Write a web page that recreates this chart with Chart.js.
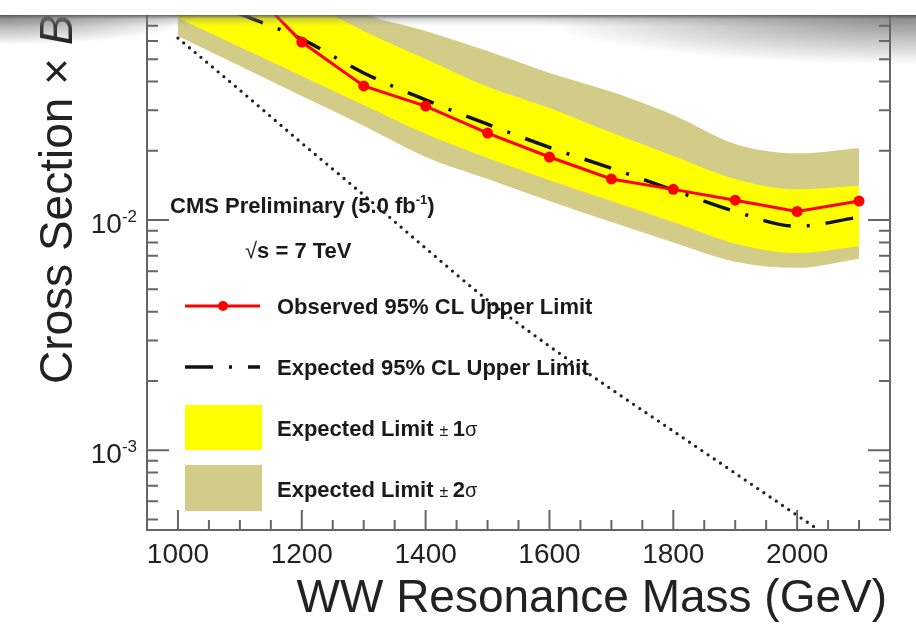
<!DOCTYPE html>
<html>
<head>
<meta charset="utf-8">
<script src="https://cdn.jsdelivr.net/npm/chart.js@4.4.1/dist/chart.umd.min.js"></script>
<style>
  html, body { margin: 0; padding: 0; background: #fff; overflow: hidden; }
  #wrap { position: absolute; left: 0; top: -40px; width: 916px; height: 665px; }
  #wrap canvas { filter: blur(0.4px); }
  #shade {
    position: absolute; left: 0; top: 0; width: 916px; height: 75px; pointer-events: none;
    background:
      linear-gradient(to bottom, #fff 0, #fff 15px, rgba(80,80,80,0.85) 15px, rgba(140,140,140,0.35) 19px, rgba(255,255,255,0) 26px),
      radial-gradient(ellipse 200px 30px at 0px 15px, rgba(105,105,105,0.8), rgba(110,110,110,0) 100%),
      radial-gradient(ellipse 380px 50px at 916px 15px, rgba(105,105,105,0.8), rgba(110,110,110,0) 100%);
  }
</style>
</head>
<body>
<div id="wrap"><canvas id="c" width="916" height="665"></canvas></div>
<div id="shade"></div>
<script>
// WW resonance mass points (GeV)
const masses = [1000, 1100, 1200, 1300, 1400, 1500, 1600, 1700, 1800, 1900, 2000, 2100];
const obsMasses = [1100, 1200, 1300, 1400, 1500, 1600, 1700, 1800, 1900, 2000, 2100];

const observed = [0.112, 0.0594, 0.0383, 0.0313, 0.0239, 0.0188, 0.0151, 0.0136, 0.0122, 0.0109, 0.0121];
const expected = [0.100, 0.0787, 0.0612, 0.0436, 0.0333, 0.0261, 0.0207, 0.0168, 0.0135, 0.0109, 0.0094, 0.0103];
const band1Up = [0.148, 0.1175, 0.0914, 0.0664, 0.0501, 0.0380, 0.0307, 0.0240, 0.0190, 0.0151, 0.0136, 0.0141];
const band1Lo = [0.0755, 0.0565, 0.0423, 0.0316, 0.0237, 0.0186, 0.0149, 0.0121, 0.0098, 0.0079, 0.0072, 0.0077];
const band2Up = [0.186, 0.146, 0.113, 0.0794, 0.0664, 0.0543, 0.0436, 0.0361, 0.0286, 0.0214, 0.0195, 0.0206];
const band2Lo = [0.0631, 0.0468, 0.0346, 0.0257, 0.0188, 0.0151, 0.0121, 0.0098, 0.0080, 0.0066, 0.0062, 0.0068];
const theory = [0.0618, 0.0367, 0.0216, 0.01285, 0.00755, 0.00449, 0.00283, 0.00184, 0.00121, 0.000794, 0.000521, 0.000343];

const xMajor = [1000, 1200, 1400, 1600, 1800, 2000];
const xMinor = [1050, 1100, 1150, 1250, 1300, 1350, 1450, 1500, 1550, 1650, 1700, 1750, 1850, 1900, 1950, 2050, 2100];
const yMajor = [0.001, 0.01];
const yExp = ['-3', '-2'];
const yMinor = [5e-4, 6e-4, 7e-4, 8e-4, 9e-4, 2e-3, 3e-3, 4e-3, 5e-3, 6e-3, 7e-3, 8e-3, 9e-3,
                2e-2, 3e-2, 4e-2, 5e-2, 6e-2, 7e-2, 8e-2, 9e-2];

const YELLOW = '#ffff00';
const OLIVE = '#d3cc89';
const RED = '#ff0000';
const OFF = 40; // canvas is shifted up by this much
const FONT = '"Liberation Sans", Arial, Helvetica, sans-serif';
const B22 = 'bold 22px ' + FONT;

const pts = (xs, ys) => xs.map((x, i) => ({ x: x, y: ys[i] }));

function drawRich(ctx, x, y, parts) {
    parts.forEach(p => {
        ctx.font = p.f;
        ctx.fillText(p.t, x, y + (p.dy || 0));
        x += ctx.measureText(p.t).width;
    });
}

const frame = {
    id: 'frame',
    afterDraw(chart) {
        const { ctx, chartArea: a, scales: { x, y } } = chart;
        ctx.save();
        ctx.strokeStyle = '#666';
        ctx.lineWidth = 2;
        ctx.strokeRect(a.left, a.top, a.right - a.left, a.bottom - a.top);

        // inside ticks
        ctx.beginPath();
        xMajor.forEach(v => {
            const px = x.getPixelForValue(v);
            ctx.moveTo(px, a.bottom); ctx.lineTo(px, a.bottom - 20);
            ctx.moveTo(px, a.top); ctx.lineTo(px, a.top + 20);
        });
        xMinor.forEach(v => {
            const px = x.getPixelForValue(v);
            ctx.moveTo(px, a.bottom); ctx.lineTo(px, a.bottom - 10);
            ctx.moveTo(px, a.top); ctx.lineTo(px, a.top + 10);
        });
        yMajor.forEach(v => {
            const py = y.getPixelForValue(v);
            ctx.moveTo(a.left, py); ctx.lineTo(a.left + 22, py);
            ctx.moveTo(a.right, py); ctx.lineTo(a.right - 22, py);
        });
        yMinor.forEach(v => {
            const py = y.getPixelForValue(v);
            ctx.moveTo(a.left, py); ctx.lineTo(a.left + 11, py);
            ctx.moveTo(a.right, py); ctx.lineTo(a.right - 11, py);
        });
        ctx.stroke();

        // tick labels
        ctx.fillStyle = '#222';
        ctx.font = '28px ' + FONT;
        ctx.textAlign = 'center';
        xMajor.forEach(v => ctx.fillText(String(v), x.getPixelForValue(v), a.bottom + 33));
        ctx.textAlign = 'right';
        yMajor.forEach((v, i) => {
            const py = y.getPixelForValue(v);
            ctx.font = '17px ' + FONT;
            ctx.fillText(yExp[i], a.left - 10, py + 2);
            const w = ctx.measureText(yExp[i]).width;
            ctx.font = '28px ' + FONT;
            ctx.fillText('10', a.left - 10 - w, py + 13);
        });

        // axis titles
        ctx.font = '46px ' + FONT;
        ctx.fillText('WW Resonance Mass (GeV)', 887, 612 + OFF);
        ctx.textAlign = 'left';
        ctx.save();
        ctx.translate(72, 384 + OFF);
        ctx.rotate(-Math.PI / 2);
        drawRich(ctx, 0, 0, [
            { t: 'Cross Section \u00d7 ', f: '46px ' + FONT },
            { t: 'B', f: 'italic 46px ' + FONT }
        ]);
        ctx.restore();

        // legend
        ctx.fillStyle = '#1a1a1a';
        drawRich(ctx, 170, 213 + OFF, [
            { t: 'CMS Preliminary (5.0 fb', f: B22 },
            { t: '-1', f: 'bold 13px ' + FONT, dy: -9 },
            { t: ')', f: B22 }
        ]);
        drawRich(ctx, 245, 258 + OFF, [
            { t: '\u221a', f: '22px ' + FONT },
            { t: 's = 7 TeV', f: B22 }
        ]);

        ctx.strokeStyle = RED;
        ctx.lineWidth = 3;
        ctx.beginPath();
        ctx.moveTo(185, 306 + OFF); ctx.lineTo(260, 306 + OFF);
        ctx.stroke();
        ctx.fillStyle = RED;
        ctx.beginPath();
        ctx.arc(223, 306 + OFF, 5, 0, Math.PI * 2);
        ctx.fill();

        ctx.strokeStyle = '#111';
        ctx.lineWidth = 3.5;
        ctx.setLineDash([28, 16, 3, 16]);
        ctx.beginPath();
        ctx.moveTo(185, 367 + OFF); ctx.lineTo(260, 367 + OFF);
        ctx.stroke();
        ctx.setLineDash([]);

        ctx.fillStyle = YELLOW;
        ctx.fillRect(185, 405 + OFF, 77, 45);
        ctx.fillStyle = OLIVE;
        ctx.fillRect(185, 465 + OFF, 77, 46);

        ctx.fillStyle = '#1a1a1a';
        drawRich(ctx, 277, 314 + OFF, [{ t: 'Observed 95% CL Upper Limit', f: B22 }]);
        drawRich(ctx, 277, 375 + OFF, [{ t: 'Expected 95% CL Upper Limit', f: B22 }]);
        drawRich(ctx, 277, 436 + OFF, [
            { t: 'Expected Limit ', f: B22 },
            { t: '\u00b1 ', f: '16px ' + FONT },
            { t: '1', f: B22 },
            { t: '\u03c3', f: '20px ' + FONT }
        ]);
        drawRich(ctx, 277, 497 + OFF, [
            { t: 'Expected Limit ', f: B22 },
            { t: '\u00b1 ', f: '16px ' + FONT },
            { t: '2', f: B22 },
            { t: '\u03c3', f: '20px ' + FONT }
        ]);
        ctx.restore();
    }
};

const ctx = document.getElementById('c').getContext('2d');
new Chart(ctx, {
    type: 'line',
    data: {
        datasets: [
            { label: '2 sigma', data: pts(masses, band2Up), fill: '+1', backgroundColor: OLIVE,
              borderWidth: 0, pointRadius: 0, cubicInterpolationMode: 'monotone', order: 5 },
            { label: '2 sigma low', data: pts(masses, band2Lo), fill: false,
              borderWidth: 0, pointRadius: 0, cubicInterpolationMode: 'monotone', order: 5 },
            { label: '1 sigma', data: pts(masses, band1Up), fill: '+1', backgroundColor: YELLOW,
              borderWidth: 0, pointRadius: 0, cubicInterpolationMode: 'monotone', order: 4 },
            { label: '1 sigma low', data: pts(masses, band1Lo), fill: false,
              borderWidth: 0, pointRadius: 0, cubicInterpolationMode: 'monotone', order: 4 },
            { label: 'theory', data: pts(masses, theory), fill: false, borderColor: '#222',
              borderWidth: 3.3, borderDash: [0, 7.5], borderCapStyle: 'round', pointRadius: 0,
              cubicInterpolationMode: 'monotone', order: 3 },
            { label: 'Expected', data: pts(masses, expected), fill: false, borderColor: '#111',
              borderWidth: 3.5, borderDash: [28, 16, 3, 16], pointRadius: 0,
              cubicInterpolationMode: 'monotone', order: 2 },
            { label: 'Observed', data: pts(obsMasses, observed), fill: false, borderColor: RED,
              borderWidth: 3, pointRadius: 5.5, pointBackgroundColor: RED, pointBorderWidth: 0,
              tension: 0, order: 1 }
        ]
    },
    options: {
        responsive: false,
        animation: false,
        layout: { padding: { left: 147, right: 26, top: 30, bottom: 95 } },
        plugins: { legend: { display: false }, tooltip: { enabled: false } },
        scales: {
            x: { type: 'linear', min: 950, max: 2150, display: false },
            y: { type: 'logarithmic', min: 4.5e-4, max: 0.1, display: false }
        }
    },
    plugins: [frame]
});
</script>
</body>
</html>
